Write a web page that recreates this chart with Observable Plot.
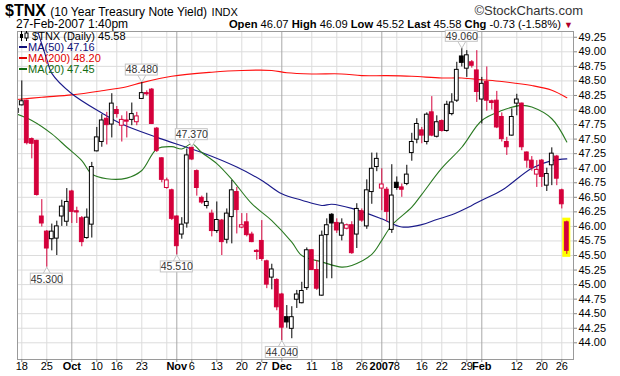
<!DOCTYPE html>
<html><head><meta charset="utf-8">
<script src="https://cdn.jsdelivr.net/npm/d3@7"></script>
<script src="https://cdn.jsdelivr.net/npm/@observablehq/plot@0.6"></script>
<style>
body{margin:0;background:#fff;font-family:"Liberation Sans",Arial,sans-serif;color:#000}
#wrap{position:relative;width:620px;height:376px;overflow:hidden;background:#fff}
.abs{position:absolute;white-space:nowrap}
#chart{position:absolute;left:0;top:30px}
.leg{position:absolute;left:19px;font-size:11px;line-height:11px;white-space:nowrap}
.dash{display:inline-block;width:8px;height:2px;vertical-align:middle;margin-right:1px;position:relative;top:-1px}
</style></head><body>
<div id="wrap">
  <div id="chart"></div>
  <div class="abs" style="left:5px;top:2px;line-height:18px"><b style="font-size:16px">$TNX</b> <span style="font-size:12px">(10 Year Treasury Note Yield)</span> <span style="font-size:11px">INDX</span></div>
  <div class="abs" style="right:37px;top:3px;font-size:13px;line-height:15px;color:#333">©StockCharts.com</div>
  <div class="abs" style="left:16px;top:17px;font-size:12px;line-height:14px">27-Feb-2007 1:40pm</div>
  <div class="abs" style="right:47px;top:17px;font-size:11.2px;line-height:14px"><b>Open</b> 46.07 <b>High</b> 46.09 <b>Low</b> 45.52 <b>Last</b> 45.58 <b>Chg</b> -0.73 (-1.58%) <span style="color:#b0002a;font-size:9px">▼</span></div>
  <div class="leg" style="top:31px"><svg width="10" height="10" style="vertical-align:middle;position:relative;top:-1px"><line x1="2.5" y1="0" x2="2.5" y2="10" stroke="#000"/><rect x="1" y="3" width="3" height="4" fill="#000"/><line x1="7.5" y1="0" x2="7.5" y2="10" stroke="#000"/><rect x="6" y="2" width="3" height="5" fill="#fff" stroke="#000"/></svg> $TNX (Daily) 45.58</div>
  <div class="leg" style="top:42px;color:#10107a"><span class="dash" style="background:#10107a"></span>MA(50) 47.16</div>
  <div class="leg" style="top:53px;color:#e00000"><span class="dash" style="background:#e00000"></span>MA(200) 48.20</div>
  <div class="leg" style="top:64px;color:#126b12"><span class="dash" style="background:#126b12"></span>MA(20) 47.45</div>
</div>
<script>
// trading-day index of first candle (Sep 15, 2006); index 0 = Sep 18, 2006
const firstDay = -1;
const open = [
47.95,
48.08,48.16,47.50,47.47,46.17,
45.91,45.78,45.79,46.17,46.08,
46.60,46.26,46.14,45.80,46.03,
47.29,47.45,47.85,47.75,
48.00,47.73,47.82,47.83,47.79,
48.19,48.29,48.35,47.68,47.17,
46.66,46.62,
46.17,45.86,46.05,
47.35,46.95,46.49,46.35,46.22,
45.92,46.10,45.77,46.16,46.59,
45.98,46.07,45.86,45.58,
45.75,45.40,45.12,45.08,44.83,
44.44,44.24,44.74,44.68,44.94,
45.59,45.25,44.81,45.85,46.20,
46.06,45.84,45.96,46.02,45.86,
46.26,46.00,46.59,47.02,
46.65,46.63,45.94,
46.75,46.67,46.73,47.26,47.49,
47.65,47.45,47.96,47.54,
47.81,47.64,47.93,48.16,48.92,
48.71,48.82,48.68,48.18,48.48,
48.15,48.16,47.88,47.45,47.56,
48.11,48.11,47.27,47.13,46.89,
47.13,46.70,47.05,47.20,46.62,46.07];
const high = [
48.10,
48.50,48.17,47.52,47.48,46.46,
45.93,46.04,46.09,46.45,46.65,
46.62,46.33,46.17,46.30,47.10,
47.70,47.92,47.96,48.28,
48.06,47.90,47.97,48.12,47.96,
48.48,48.33,48.37,47.70,47.18,
46.83,46.64,
46.18,46.15,47.33,
47.37,46.97,46.52,46.57,46.28,
46.42,46.12,46.30,46.79,46.67,
46.22,46.22,45.90,45.60,
46.10,45.42,45.35,45.10,44.85,
44.64,44.62,44.90,45.04,45.63,
45.60,45.41,45.92,46.13,46.22,
46.13,46.13,46.04,46.08,46.39,
46.30,46.80,47.26,47.26,
46.99,46.67,47.06,
46.85,46.73,47.05,47.60,47.85,
47.70,47.95,48.23,47.90,
47.83,48.15,48.28,48.82,49.06,
49.02,48.85,49.02,48.56,48.74,
48.17,48.32,47.95,47.53,48.02,
48.27,48.12,47.28,47.20,47.13,
47.15,47.00,47.35,47.22,46.64,46.09];
const low = [
47.90,
48.07,47.40,47.16,46.52,45.99,
45.30,45.58,45.50,46.00,46.00,
46.05,46.05,45.65,45.78,45.80,
47.28,47.36,47.40,47.52,
47.86,47.45,47.52,47.73,47.73,
48.18,48.24,47.75,47.27,46.75,
46.64,46.10,
45.51,45.78,45.97,
47.13,46.52,46.38,46.30,45.82,
45.88,45.50,45.70,45.70,45.87,
45.96,45.82,45.72,45.42,
45.40,44.93,44.91,44.55,44.04,
44.25,44.07,44.59,44.67,44.90,
45.24,44.90,44.80,45.10,45.10,
45.88,45.75,45.94,45.52,45.62,
46.07,45.95,46.38,46.94,
46.27,46.08,45.88,
46.62,46.50,46.70,47.12,47.42,
47.42,47.40,47.54,47.52,
47.62,47.62,47.90,48.13,48.74,
48.56,48.72,48.13,47.76,47.98,
48.00,47.68,47.45,47.22,47.55,
47.90,47.30,47.00,46.95,46.67,
46.67,46.60,46.70,46.70,46.30,45.52];
const close = [
48.02,
48.15,47.43,47.42,46.54,46.05,
45.62,45.91,46.00,46.34,46.42,
46.25,46.24,45.73,46.15,47.02,
47.53,47.82,47.74,48.11,
47.93,47.83,47.80,47.93,47.89,
48.29,48.27,47.76,47.30,46.80,
46.79,46.13,
45.66,46.03,47.22,
47.15,46.66,46.41,46.42,45.92,
46.11,45.73,46.22,46.62,46.28,
46.02,45.85,45.73,45.56,
45.44,45.00,45.26,44.61,44.26,
44.35,44.44,44.83,44.89,45.59,
45.25,44.93,45.84,46.02,46.05,
45.93,46.05,46.02,45.54,46.30,
46.10,46.62,46.99,47.16,
46.72,46.25,46.53,
46.66,46.63,46.89,47.45,47.76,
47.56,47.92,47.56,47.79,
47.64,48.09,48.13,48.69,48.81,
48.94,48.76,48.31,48.45,48.16,
48.12,47.70,47.50,47.36,47.88,
48.18,47.36,47.13,47.00,46.97,
46.85,46.90,47.25,46.82,46.38,45.58];

// moving averages (trading-day index, value)
const ma200Idx = [-1,4,10,16,21,24,30,38,44,50,53,58,64,68,73,78,84,88,92,96,102,106,109];
const ma200Val = [48.18,48.22,48.26,48.33,48.40,48.47,48.58,48.65,48.68,48.68,48.64,48.62,48.62,48.59,48.59,48.58,48.55,48.55,48.52,48.49,48.42,48.34,48.21];
const ma50Idx = [3,5,6,10,16,20,27,36,43,48,52,56,60,62,66,72,76,80,83,86,90,92,96,102,106,109];
const ma50Val = [49.40,48.87,48.63,48.28,47.95,47.76,47.53,47.27,47.02,46.79,46.56,46.45,46.36,46.38,46.31,46.13,45.99,46.03,46.12,46.20,46.36,46.45,46.62,47.00,47.13,47.16];
const ma20Idx = [-1,2,6,9,12,14,17,21,24,27,30,32,34,36,39,42,46,50,54,56,60,64,66,70,72,74,78,80,84,88,92,96,100,102,106,109];
const ma20Val = [47.93,47.82,47.59,47.36,47.13,46.90,46.82,46.83,46.96,47.33,47.37,47.33,47.42,47.27,47.08,46.81,46.39,46.10,45.73,45.50,45.39,45.30,45.33,45.52,45.76,46.02,46.33,46.55,47.00,47.36,47.82,47.99,48.08,48.05,47.85,47.45];

// annotations
const hiLabelIdx = [24,34,88];
const hiLabels = ["48.480","47.370","49.060"];
const loLabelIdx = [5,31,52];
const loLabels = ["45.300","45.510","44.040"];

// axis ticks
const yTicks = [44.00,44.25,44.50,44.75,45.00,45.25,45.50,45.75,46.00,46.25,46.50,46.75,47.00,47.25,47.50,47.75,48.00,48.25,48.50,48.75,49.00,49.25];
const tickIdx = [0,5,15,19,24,34,39,44,48,58,63,68,75,80,84,89,99,104,108];
const tickText = ["18","25","10","16","23","6","13","20","27","11","18","26","8","16","22","29","12","20","26"];
const monthIdx = [10,31,52,72,92];
const monthText = ["Oct","Nov","Dec","2007","Feb"];
const extraGridIdx = [29];

const RED = "#d4003b", BLACK = "#000000";
const days = open.map((o, k) => ({i: k + firstDay, o, h: high[k], l: low[k], c: close[k]}));
days.forEach((d, k) => {
  const pc = k > 0 ? close[k - 1] : d.o;
  d.col = d.c >= pc ? BLACK : RED;
  d.fill = d.c > d.o ? "#ffffff" : d.col;
});
const last = [days[days.length - 1]];
const ma = (idx, val) => idx.map((i, k) => ({i, v: val[k]}));
const hiPts = hiLabelIdx.map((i, k) => ({i, v: high[i - firstDay], t: hiLabels[k]}));
const loPts = loLabelIdx.map((i, k) => ({i, v: low[i - firstDay], t: loLabels[k]}));

const boxStyle = {fill: "white", stroke: "#c4c4c4", strokeWidth: 1};
const labelMarks = (pts, dir) => [
  Plot.dot(pts, {x: "i", y: "v", symbol: "triangle", rotate: dir < 0 ? 180 : 0, r: 3.2, dy: dir * 5, ...boxStyle}),
  Plot.rect(pts, {x1: d => d.i - 3.2, x2: d => d.i + 3.2, y1: "v", y2: "v", insetTop: -5.5, insetBottom: -5.5, dy: dir * 12, ...boxStyle}),
  Plot.text(pts, {x: "i", y: "v", text: "t", dy: dir * 12, fontSize: 10.5, fill: "#333"})
];

const chart = Plot.plot({
  width: 620, height: 346,
  marginTop: 1, marginBottom: 17, marginLeft: 17, marginRight: 47,
  style: {fontFamily: "'Liberation Sans', Arial, sans-serif", fontSize: "11px", background: "transparent", overflow: "visible", color: "#000"},
  x: {type: "linear", domain: [-0.86, 110.34], label: null},
  y: {type: "linear", domain: [43.713, 49.349], label: null},
  marks: [
    Plot.ruleY(yTicks, {stroke: "#dcdcdc"}),
    Plot.ruleX(tickIdx.concat(extraGridIdx), {stroke: "#dcdcdc"}),
    Plot.ruleX(monthIdx, {stroke: "#a8a8a8"}),
    Plot.rect(last, {x1: d => d.i - 0.8, x2: d => d.i + 0.8, y1: "l", y2: "h", fill: "#ffff00", insetTop: -3, insetBottom: -3}),
    Plot.line(ma(ma200Idx, ma200Val), {x: "i", y: "v", stroke: "#ff1010", strokeWidth: 1.1, curve: "catmull-rom", clip: true}),
    Plot.line(ma(ma50Idx, ma50Val), {x: "i", y: "v", stroke: "#1a1a8a", strokeWidth: 1.1, curve: "catmull-rom", clip: true}),
    Plot.line(ma(ma20Idx, ma20Val), {x: "i", y: "v", stroke: "#2a7a22", strokeWidth: 1.1, curve: "catmull-rom", clip: true}),
    Plot.ruleX(days, {x: "i", y1: "l", y2: "h", stroke: "col", strokeWidth: 1, clip: true}),
    Plot.rect(days, {x1: d => d.i - 0.38, x2: d => d.i + 0.38, y1: "o", y2: "c", fill: "fill", stroke: "col", strokeWidth: 1, clip: true}),
    Plot.frame({stroke: "#9a9a9a"}),
    Plot.axisY(yTicks, {anchor: "right", tickSize: 3, tickPadding: 2, tickFormat: d => d.toFixed(2), stroke: "#888", fontSize: 11}),
    Plot.axisX(tickIdx, {anchor: "bottom", tickSize: 3, tickPadding: 0, tickFormat: d => tickText[tickIdx.indexOf(d)], stroke: "#888", fontSize: 11}),
    Plot.axisX(monthIdx, {anchor: "bottom", tickSize: 3, tickPadding: 0, tickFormat: d => monthText[monthIdx.indexOf(d)], stroke: "#888", fontSize: 11, fontWeight: "bold"}),
    ...labelMarks(hiPts, -1),
    ...labelMarks(loPts, 1)
  ]
});
document.getElementById("chart").appendChild(chart);
</script>
</body></html>
